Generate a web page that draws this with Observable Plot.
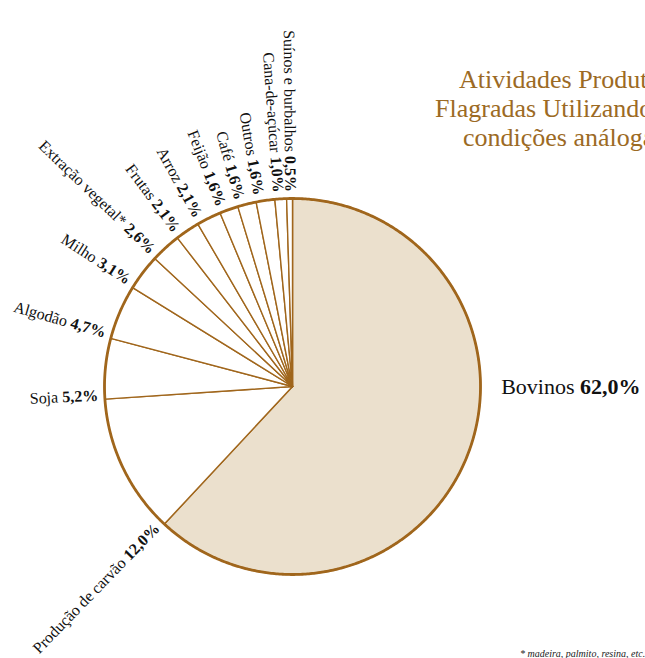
<!DOCTYPE html>
<html><head><meta charset="utf-8">
<script src="https://cdn.jsdelivr.net/npm/d3@7"></script>
<script src="https://cdn.jsdelivr.net/npm/@observablehq/plot@0.6"></script>
<style>
html,body{margin:0;padding:0;background:#fff;overflow:hidden;width:645px;height:658px}
#wrap{position:relative;width:645px;height:658px;overflow:hidden}
#wrap svg{position:absolute;left:0;top:0}
.title{position:absolute;font-family:"Liberation Serif",serif;font-size:26px;color:#9c6a24;white-space:nowrap;line-height:1}
.note{position:absolute;font-family:"Liberation Serif",serif;font-style:italic;font-size:10px;color:#222;white-space:nowrap;line-height:1}
</style></head><body><div id="wrap"></div>
<script>
const categories = ["Bovinos","Produção de carvão","Soja","Algodão","Milho","Extração vegetal*","Frutas","Arroz","Feijão","Café","Outros","Cana-de-açúcar","Suínos e burbalhos"];
const values = [62.0,12.0,5.2,4.7,3.1,2.6,2.1,2.1,1.6,1.6,1.6,1.0,0.5];
const titleLines = ["Atividades Produtivas","Flagradas Utilizando Trabalho em","condições análogas à de escravo"];
const footnote = "* madeira, palmito, resina, etc.";

const brown = "#a0661c", beige = "#ebe0cd";
const total = d3.sum(values);
let acc = 0;
const slices = categories.map((name, i) => {
  const a0 = acc / total * 360; acc += values[i];
  const a1 = acc / total * 360;
  return {name, value: values[i], a0, a1};
});
const rad = d => d * Math.PI / 180;
const polys = [];
const ring = [];
for (const s of slices) {
  polys.push({name: s.name, x: 0, y: 0});
  const n = Math.max(2, Math.ceil((s.a1 - s.a0) / 0.5));
  for (let k = 0; k <= n; k++) {
    const a = s.a0 + (s.a1 - s.a0) * k / n;
    const p = {name: s.name, x: Math.sin(rad(a)), y: Math.cos(rad(a))};
    polys.push(p); ring.push({x: p.x, y: p.y});
  }
  polys.push({name: s.name, x: 0, y: 0});
}
const fmt = v => v.toFixed(1).replace(".", ",") + "%";
const labels = slices.map(s => {
  const right = s.a0 < 90 && s.a1 > 90;
  const a = right ? 90 : s.a0 + 1.2;
  const rr = right ? 1.11 : 1.035;
  return {text: `${s.name} ${fmt(s.value)}`, right, x: rr * Math.sin(rad(a)), y: rr * Math.cos(rad(a)), rotate: right ? 0 : a - 270};
});

const chart = Plot.plot({
  width: 645, height: 658,
  marginLeft: 104, marginRight: 165, marginTop: 198, marginBottom: 84,
  x: {domain: [-1, 1], axis: null},
  y: {domain: [-1, 1], axis: null},
  style: {fontFamily: "Liberation Serif, serif", background: "transparent"},
  marks: [
    Plot.line(polys.filter(d => d.name === categories[0]), {x: "x", y: "y", z: "name", fill: beige, stroke: brown, strokeWidth: 1.6, strokeLinejoin: "round"}),
    Plot.line(polys.filter(d => d.name !== categories[0]), {x: "x", y: "y", z: "name", fill: "white", stroke: brown, strokeWidth: 1.4, strokeLinejoin: "round"}),
    Plot.line(ring, {x: "x", y: "y", stroke: brown, strokeWidth: 2.8, strokeLinejoin: "round"}),
    Plot.text(labels.filter(d => !d.right), {x: "x", y: "y", text: "text", rotate: "rotate", textAnchor: "end", lineAnchor: "middle", fontSize: 16, fill: "#111"}),
    Plot.text(labels.filter(d => d.right), {x: "x", y: "y", text: "text", textAnchor: "start", lineAnchor: "middle", fontSize: 22, fill: "#111"})
  ]
});

d3.select(chart).selectAll("g[aria-label=text] text").each(function () {
  const t = this.textContent;
  const i = t.lastIndexOf(" ");
  this.textContent = "";
  const a = document.createElementNS("http://www.w3.org/2000/svg", "tspan");
  a.textContent = t.slice(0, i + 1);
  const b = document.createElementNS("http://www.w3.org/2000/svg", "tspan");
  b.textContent = t.slice(i + 1);
  b.setAttribute("font-weight", "bold");
  this.appendChild(a); this.appendChild(b);
});

const wrap = document.getElementById("wrap");
wrap.appendChild(chart);
const tx = [459, 435, 463], ty = [67, 96, 125];
titleLines.forEach((t, i) => {
  const d = document.createElement("div");
  d.className = "title"; d.textContent = t;
  d.style.left = tx[i] + "px"; d.style.top = ty[i] + "px";
  wrap.appendChild(d);
});
const n = document.createElement("div");
n.className = "note"; n.textContent = footnote;
n.style.left = "520px"; n.style.top = "649px";
wrap.appendChild(n);
</script></body></html>
